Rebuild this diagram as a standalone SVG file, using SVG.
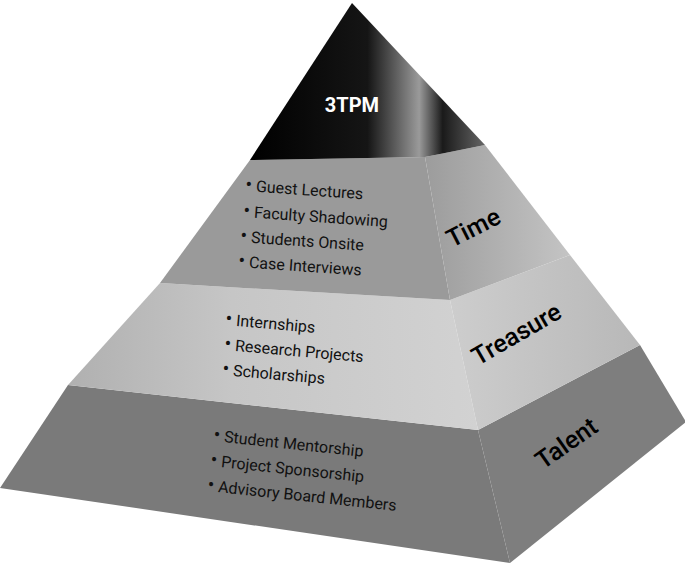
<svg xmlns="http://www.w3.org/2000/svg" width="685" height="568" viewBox="0 0 685 568">
<defs>
<linearGradient id="cap" x1="0" y1="0" x2="1" y2="0">
<stop offset="0" stop-color="#000"/><stop offset="0.5" stop-color="#151515"/><stop offset="0.72" stop-color="#9a9a9a"/><stop offset="0.82" stop-color="#1a1a1a"/><stop offset="1" stop-color="#666"/>
</linearGradient>
<linearGradient id="rTime" x1="0" y1="0" x2="1" y2="0"><stop offset="0" stop-color="#9c9c9c"/><stop offset="1" stop-color="#c4c4c4"/></linearGradient>
<linearGradient id="rTreas" x1="0" y1="0" x2="1" y2="0"><stop offset="0" stop-color="#cdcdcd"/><stop offset="1" stop-color="#b8b8b8"/></linearGradient>
<linearGradient id="lTreas" x1="0" y1="0" x2="1" y2="0"><stop offset="0" stop-color="#b0b0b0"/><stop offset="0.4" stop-color="#c6c6c6"/><stop offset="1" stop-color="#d2d2d2"/></linearGradient>
</defs>
<style>
.b{font-family:Roboto,"Liberation Sans",sans-serif;font-size:16px;fill:#111}
.h{font-family:Roboto,"Liberation Sans",sans-serif;font-size:25px;font-weight:500;fill:#000}
</style>
<rect width="685" height="568" fill="#fff"/>
<g id="talent">
<polygon points="68,385 478,430 510,563 0,488" fill="#7a7a7a"/>
<polygon points="478,430 640,345 686,422 510,563" fill="#7e7e7e"/>
</g>
<g id="treasure">
<polygon points="160,283 450,300 478,430 68,385" fill="url(#lTreas)"/>
<polygon points="450,300 570,255 640,345 478,430" fill="url(#rTreas)"/>
</g>
<g id="time">
<polygon points="250,160 425,157 450,300 160,283" fill="#9a9a9a"/>
<polygon points="425,157 485,145 570,255 450,300" fill="url(#rTime)"/>
</g>
<g id="cap">
<polygon points="352,3 485,145 425,157 250,160" fill="url(#cap)"/>
<text x="352" y="112" text-anchor="middle" font-family="Roboto,'Liberation Sans',sans-serif" font-size="20" font-weight="bold" fill="#fff">3TPM</text>
</g>
<g id="labels">
<text class="h" transform="translate(452,248) rotate(-27)">Time</text>
<text class="h" transform="translate(478,366) rotate(-30)">Treasure</text>
<text class="h" transform="translate(543,470) rotate(-35)">Talent</text>
</g>
<g id="bullets">
<text class="b" transform="translate(245,191) rotate(4)"><tspan font-size="20">•</tspan> Guest Lectures</text>
<text class="b" transform="translate(243,217) rotate(4)"><tspan font-size="20">•</tspan> Faculty Shadowing</text>
<text class="b" transform="translate(240,242) rotate(4)"><tspan font-size="20">•</tspan> Students Onsite</text>
<text class="b" transform="translate(238,267) rotate(4)"><tspan font-size="20">•</tspan> Case Interviews</text>
<text class="b" transform="translate(225,325) rotate(5)"><tspan font-size="20">•</tspan>  Internships</text>
<text class="b" transform="translate(224,350) rotate(5)"><tspan font-size="20">•</tspan>  Research Projects</text>
<text class="b" transform="translate(222,375) rotate(5)"><tspan font-size="20">•</tspan>  Scholarships</text>
<text class="b" transform="translate(213,441) rotate(6)"><tspan font-size="20">•</tspan> Student Mentorship</text>
<text class="b" transform="translate(210,466) rotate(6)"><tspan font-size="20">•</tspan> Project Sponsorship</text>
<text class="b" transform="translate(207,491) rotate(6)"><tspan font-size="20">•</tspan> Advisory Board Members</text>
</g>
</svg>
